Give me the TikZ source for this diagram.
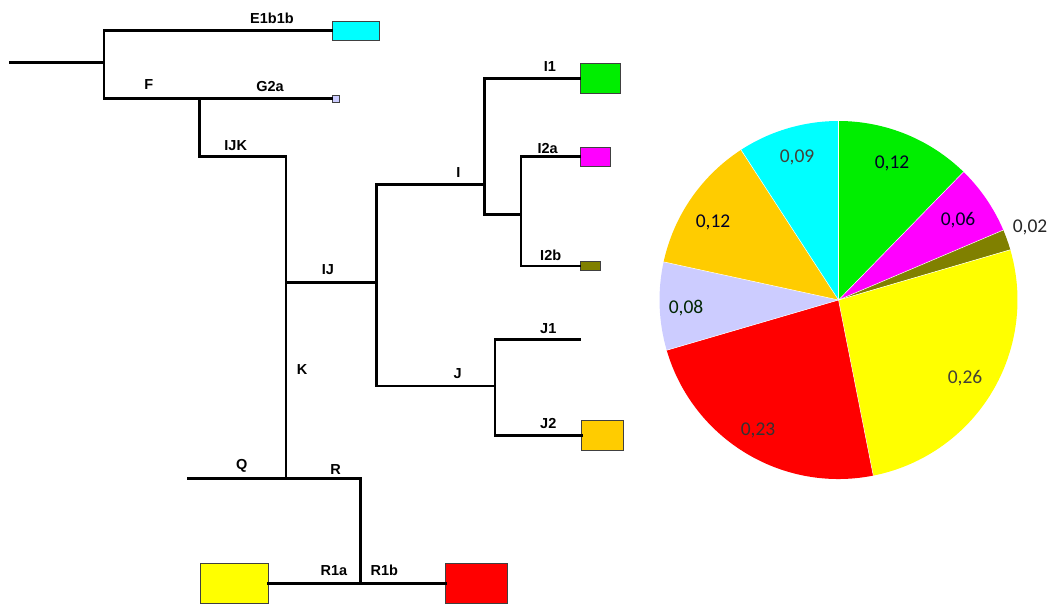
\documentclass[tikz,border=0pt]{standalone}
\usepackage{fontspec}
\newfontfamily\treefont{Liberation Sans}
\newfontfamily\piefont{Carlito}
\begin{document}
\begin{tikzpicture}[x=1pt,y=-1pt,
  branch/.style={line width=2.7pt,line cap=rect,draw=black},
  leaf/.style={draw=black!75,line width=0.8pt,inner sep=0pt,outer sep=0pt,minimum width=#1},
  lbl/.style={font=\treefont\bfseries\fontsize{14.5}{16}\selectfont,inner sep=0pt},
  plbl/.style={font=\piefont\fontsize{19.5}{22}\selectfont,inner sep=0pt},
  slice/.style={draw=white,line width=0.4pt}]
\useasboundingbox (0,0) rectangle (1056,605);
\definecolor{cCyan}{HTML}{00FFFF}
\definecolor{cLav}{HTML}{CCCCFF}
\definecolor{cGreen}{HTML}{00EE00}
\definecolor{cMag}{HTML}{FF00FF}
\definecolor{cOlive}{HTML}{808000}
\definecolor{cYel}{HTML}{FFFF00}
\definecolor{cRed}{HTML}{FF0000}
\definecolor{cOra}{HTML}{FFCC00}
% leaf boxes
\node[leaf=47pt,minimum height=19.3pt,fill=cCyan] (ebox) at (355.5,30.7) {};
\node[leaf=7pt,minimum height=7.3pt,fill=cLav] (gbox) at (335.5,98.7) {};
\node[leaf=40.7pt,minimum height=30pt,fill=cGreen] (i1box) at (600.3,78.3) {};
\node[leaf=30pt,minimum height=19pt,fill=cMag] (i2abox) at (595,156.7) {};
\node[leaf=20.7pt,minimum height=9pt,fill=cOlive] (i2bbox) at (590.3,266) {};
\node[leaf=41.6pt,minimum height=30pt,fill=cOra] (j2box) at (602.5,435.5) {};
\node[leaf=68.3pt,minimum height=40pt,fill=cYel] (r1abox) at (234.2,583.5) {};
\node[leaf=61.6pt,minimum height=40pt,fill=cRed] (r1bbox) at (476.5,583.5) {};
% junctions
\coordinate (root) at (10,62.7);
\coordinate (a) at (104,62.7);
\coordinate (fj) at (199.3,98.7);
\coordinate (k1) at (286,156.7);
\coordinate (ij) at (286,282.7);
\coordinate (qr) at (286,478.3);
\coordinate (q) at (188.3,478.3);
\coordinate (r) at (360.7,478.3);
\coordinate (r1) at (360.7,583.5);
\coordinate (ijr) at (376.7,282.7);
\coordinate (il) at (376.7,184.3);
\coordinate (ij1) at (484.3,184.3);
\coordinate (i2l) at (484.3,214.3);
\coordinate (i2j) at (521,214.3);
\coordinate (jj) at (495,386);
\coordinate (j1end) at (580,339.3);
% branches
\draw[branch] (root) -- (a);
\draw[branch] (ebox.west) -| (a) |- (gbox.west);
\draw[branch] (fj) |- (k1) -- (qr);
\draw[branch] (q) -- (r) -- (r1);
\draw[branch] (r1abox.east) -- (r1bbox.west);
\draw[branch] (ij) -- (ijr);
\draw[branch] (il) -- (ij1);
\draw[branch] (i1box.west) -| (i2l) -- (i2j);
\draw[branch] (i2abox.west) -| (i2j) |- (i2bbox.west);
\draw[branch] (il) |- (jj);
\draw[branch] (j1end) -| (jj) |- (j2box.west);
% tree labels
\node[lbl] (tE) at (272,18.7) {E1b1b};
\node[lbl] (tF) at (148.7,85) {F};
\node[lbl] (tG) at (270,86.7) {G2a};
\node[lbl] (tIJK) at (235.7,146) {IJK};
\node[lbl] (tIJ) at (328,270) {IJ};
\node[lbl] (tI) at (458.5,172.5) {I};
\node[lbl] (tI1) at (550,66.7) {I1};
\node[lbl] (tI2a) at (547.7,148.3) {I2a};
\node[lbl] (tI2b) at (550.7,255.7) {I2b};
\node[lbl] (tJ) at (457.7,373.3) {J};
\node[lbl] (tJ1) at (548.3,329) {J1};
\node[lbl] (tJ2) at (548.3,423.3) {J2};
\node[lbl] (tK) at (302,370) {K};
\node[lbl] (tQ) at (241.7,466) {Q};
\node[lbl] (tR) at (335.7,469.3) {R};
\node[lbl] (tR1a) at (334,570.7) {R1a};
\node[lbl] (tR1b) at (384.3,570.7) {R1b};
% pie
\coordinate (pc) at (838.5,300);
\foreach \a/\b/\c in {90/45.7/cGreen,45.7/23/cMag,23/16.3/cOlive,16.3/-78.8/cYel,-78.8/-163.7/cRed,-163.7/-192.3/cLav,-192.3/-237/cOra,-237/-270/cCyan}{
  \fill[\c] (pc) -- ++(\a:179pt) arc[start angle=\a,end angle=\b,radius=179pt] -- cycle;
}
\foreach \a in {90,45.7,23,16.3,-78.8,-163.7,-192.3,-237}{
  \draw[white,line width=0.5pt] (pc) -- ++(\a:179pt);
}
\node[plbl,text=black!85!blue] (p1) at (892,163) {0,12};
\node[plbl,text=black!85!blue] (p2) at (958,220) {0,06};
\node[plbl,text=black!85] (p3) at (1030,227) {0,02};
\node[plbl,text=black!85!yellow] (p4) at (965,378) {0,26};
\node[plbl,text=black!80] (p5) at (758,430) {0,23};
\node[plbl,text=black!85!green] (p6) at (686,308) {0,08};
\node[plbl,text=black!85!blue] (p7) at (713,222) {0,12};
\node[plbl,text=black!85!yellow] (p8) at (797,157) {0,09};
\end{tikzpicture}
\end{document}
